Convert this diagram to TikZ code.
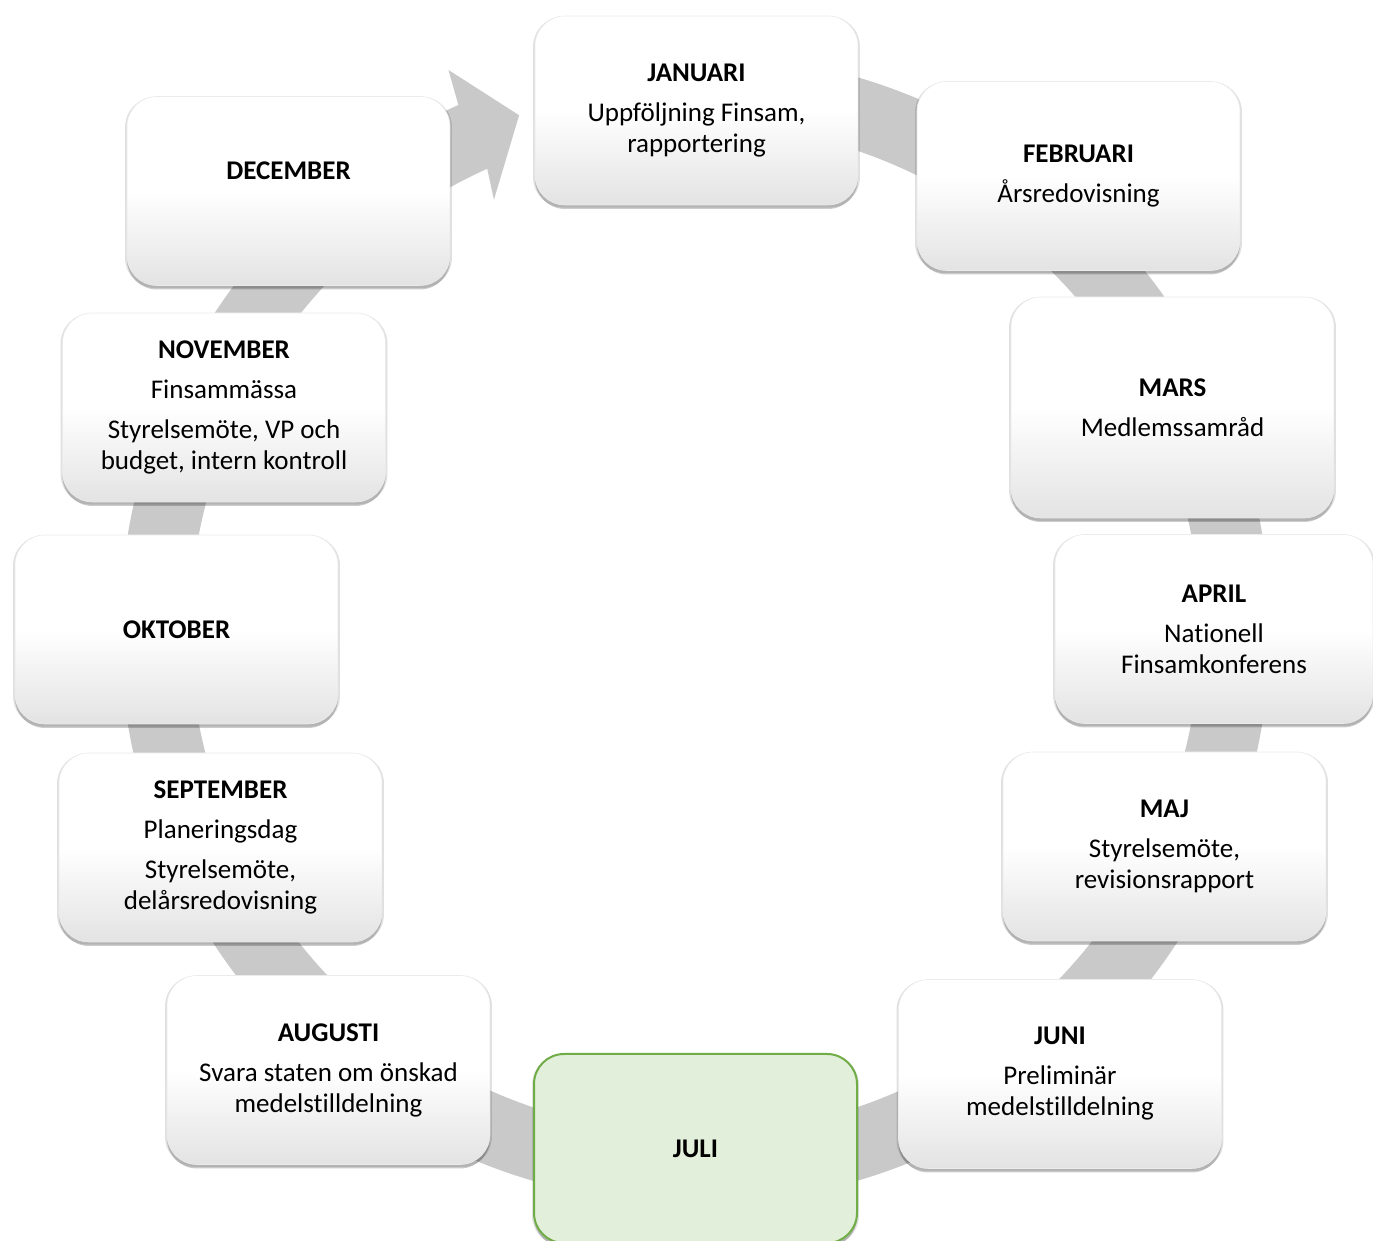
\documentclass[tikz,border=0pt]{standalone}
\usepackage{fontspec}
\setmainfont{Carlito}[Ligatures=NoCommon]
\usetikzlibrary{shadows}
\definecolor{ringgray}{HTML}{C9C9C9}
\definecolor{boxgray}{HTML}{E3E3E3}
\definecolor{julifill}{HTML}{E2EFDA}
\definecolor{juliline}{HTML}{70AD47}

\begin{document}
\begin{tikzpicture}[x=1pt,y=1pt,
  monthbox/.style={rounded corners=30pt,minimum width=323pt,minimum height=189pt,
    inner sep=0pt,align=center,font=\fontsize{27}{31}\selectfont,
    drop shadow={shadow xshift=0pt,shadow yshift=-1.5pt,shadow scale=1.012,opacity=.12,fill=black},
    drop shadow={shadow xshift=0pt,shadow yshift=-4pt,opacity=.2,fill=black}},
  graybox/.style={monthbox,draw=black!8,line width=0.6pt,top color=white,bottom color=boxgray,middle color=white},
  greenbox/.style={monthbox,fill=julifill,draw=juliline,line width=2pt}]
\useasboundingbox (0,0) rectangle (1373,1241);

% ring with arrow head
\fill[ringgray,shift={(695,612)}] (90:575) arc[start angle=90,end angle=-245.7,radius=575]
  -- (113.8:611) -- (108.9:543) -- (115.1:474) -- (114.3:505)
  arc[start angle=-245.7,end angle=90,radius=505] -- cycle;

\node[graybox] (jan) at (696.5,1130.5) {\textbf{JANUARI}\\[9pt]Uppföljning Finsam,\\rapportering};
\node[graybox] (feb) at (1078.5,1065) {\textbf{FEBRUARI}\\[9pt]Årsredovisning};
\node[graybox,minimum height=221pt] (mar) at (1172.5,833.5) {\textbf{MARS}\\[9pt]Medlemssamråd};
\node[graybox,minimum width=318pt] (apr) at (1214,612) {\textbf{APRIL}\\[9pt]Nationell\\Finsamkonferens};
\node[graybox] (maj) at (1164.5,394.5) {\textbf{MAJ}\\[9pt]Styrelsemöte,\\revisionsrapport};
\node[graybox] (jun) at (1060,167) {\textbf{JUNI}\\[9pt]Preliminär\\medelstilldelning};
\node[greenbox] (jul) at (695.5,92.5) {\textbf{JULI}};
\node[graybox] (aug) at (328.5,171) {\textbf{AUGUSTI}\\[9pt]Svara staten om önskad\\medelstilldelning};
\node[graybox] (sep) at (220.5,393.5) {\textbf{SEPTEMBER}\\[9pt]Planeringsdag\\[9pt]Styrelsemöte,\\delårsredovisning};
\node[graybox] (okt) at (176.5,611.5) {\textbf{OKTOBER}};
\node[graybox] (nov) at (224,833.5) {\textbf{NOVEMBER}\\[9pt]Finsammässa\\[9pt]Styrelsemöte, VP och\\budget, intern kontroll};
\node[graybox] (dec) at (288.5,1050) {\textbf{DECEMBER}\\[9pt]\mbox{}};
\end{tikzpicture}
\end{document}
